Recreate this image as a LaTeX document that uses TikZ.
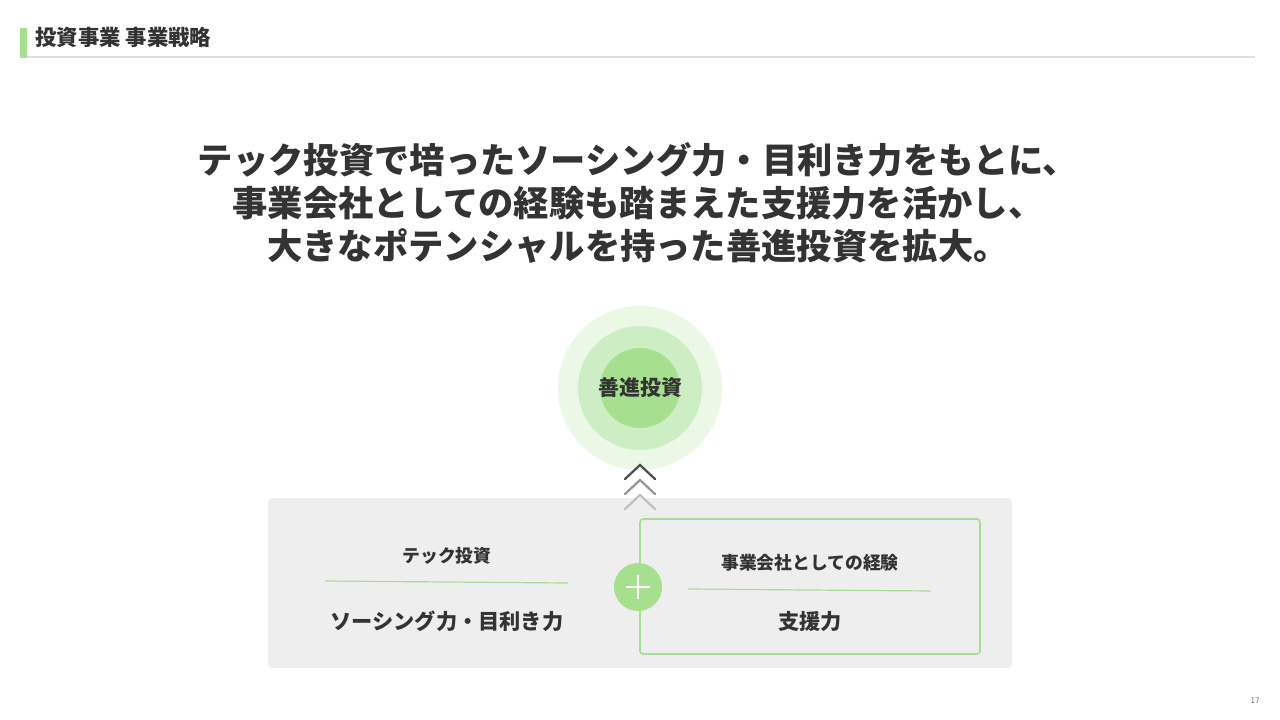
\documentclass[tikz,border=0pt]{standalone}
\usepackage{fontspec}
\usetikzlibrary{calc}
\setmainfont{Noto Sans CJK JP}
\definecolor{txt}{HTML}{333333}
\definecolor{gA}{HTML}{A6E08F}
\definecolor{gB}{HTML}{CDEEC4}
\definecolor{gC}{HTML}{EBF8E6}
\definecolor{panel}{HTML}{EEEEEE}
\definecolor{rule}{HTML}{DDDDDD}
\tikzset{
  lbl/.style={text=txt, inner sep=0pt, font=\bfseries},
  chev/.style={line width=2.2pt, line cap=round, line join=miter},
}
\begin{document}
\begin{tikzpicture}[x=1pt,y=-1pt]
\useasboundingbox (0,0) rectangle (1280,720);
\fill[white] (0,0) rectangle (1280,720);
% header
\fill[gA] (20,28) rectangle (27,58);
\draw[rule, line width=2pt] (27,57) -- (1255,57);
\node[lbl, anchor=west, font=\fontsize{21.4}{24}\selectfont\bfseries] (hdr) at (35,37) {投資事業 事業戦略};
% title
\node[lbl, font=\fontsize{35.3}{43}\selectfont\bfseries, align=center] (title) at (638,203)
  {テック投資で培ったソーシング力・目利き力をもとに、\\事業会社としての経験も踏まえた支援力を活かし、\\大きなポテンシャルを持った善進投資を拡大。};
% circles
\fill[gC] (640,388) circle (82);
\fill[gB] (640,388) circle (62);
\fill[gA] (640,388) circle (40);
\node[lbl, font=\fontsize{21}{24}\selectfont\bfseries] (goal) at (640,388) {善進投資};
% panel
\fill[panel, rounded corners=4pt] (268,498) rectangle (1012,668);
% chevrons
\coordinate (c1) at (640,465);
\coordinate (c2) at (640,480);
\coordinate (c3) at (640,495);
\draw[chev, color=black!70] ($(c1)+(-15,14)$) -- (c1) -- ($(c1)+(15,14)$);
\draw[chev, color=black!42] ($(c2)+(-15,14)$) -- (c2) -- ($(c2)+(15,14)$);
\draw[chev, color=black!25] ($(c3)+(-15,14)$) -- (c3) -- ($(c3)+(15,14)$);
% right box
\draw[gA, line width=1.6pt, rounded corners=3pt] (640,519) rectangle (980,654);
% plus
\node[circle, fill=gA, minimum size=48pt, inner sep=0pt] (plus) at (638,587) {};
\draw[white, line width=2.4pt] ($(plus)+(-12,0)$) -- ($(plus)+(12,0)$);
\draw[white, line width=2.4pt] ($(plus)+(0,-12)$) -- ($(plus)+(0,12)$);
% left content
\node[lbl, font=\fontsize{17.8}{20}\selectfont\bfseries] (lt) at (447,556) {テック投資};
\coordinate (l1) at (325,581);
\coordinate (l2) at (568,583);
\draw[gA, line width=1.2pt] (l1) -- (l2);
\node[lbl, font=\fontsize{21.2}{24}\selectfont\bfseries] (lb) at (447,621) {ソーシング力・目利き力};
% right content
\node[lbl, font=\fontsize{17.8}{20}\selectfont\bfseries] (rt) at (810,563) {事業会社としての経験};
\coordinate (r1) at (688,589);
\coordinate (r2) at (931,591);
\draw[gA, line width=1.2pt] (r1) -- (r2);
\node[lbl, font=\fontsize{21.2}{24}\selectfont\bfseries] (rb) at (810,622) {支援力};
% page number
\node[text=black!55, font=\fontsize{8}{10}\selectfont, inner sep=0pt] (pg) at (1255,701) {17};
\end{tikzpicture}
\end{document}
